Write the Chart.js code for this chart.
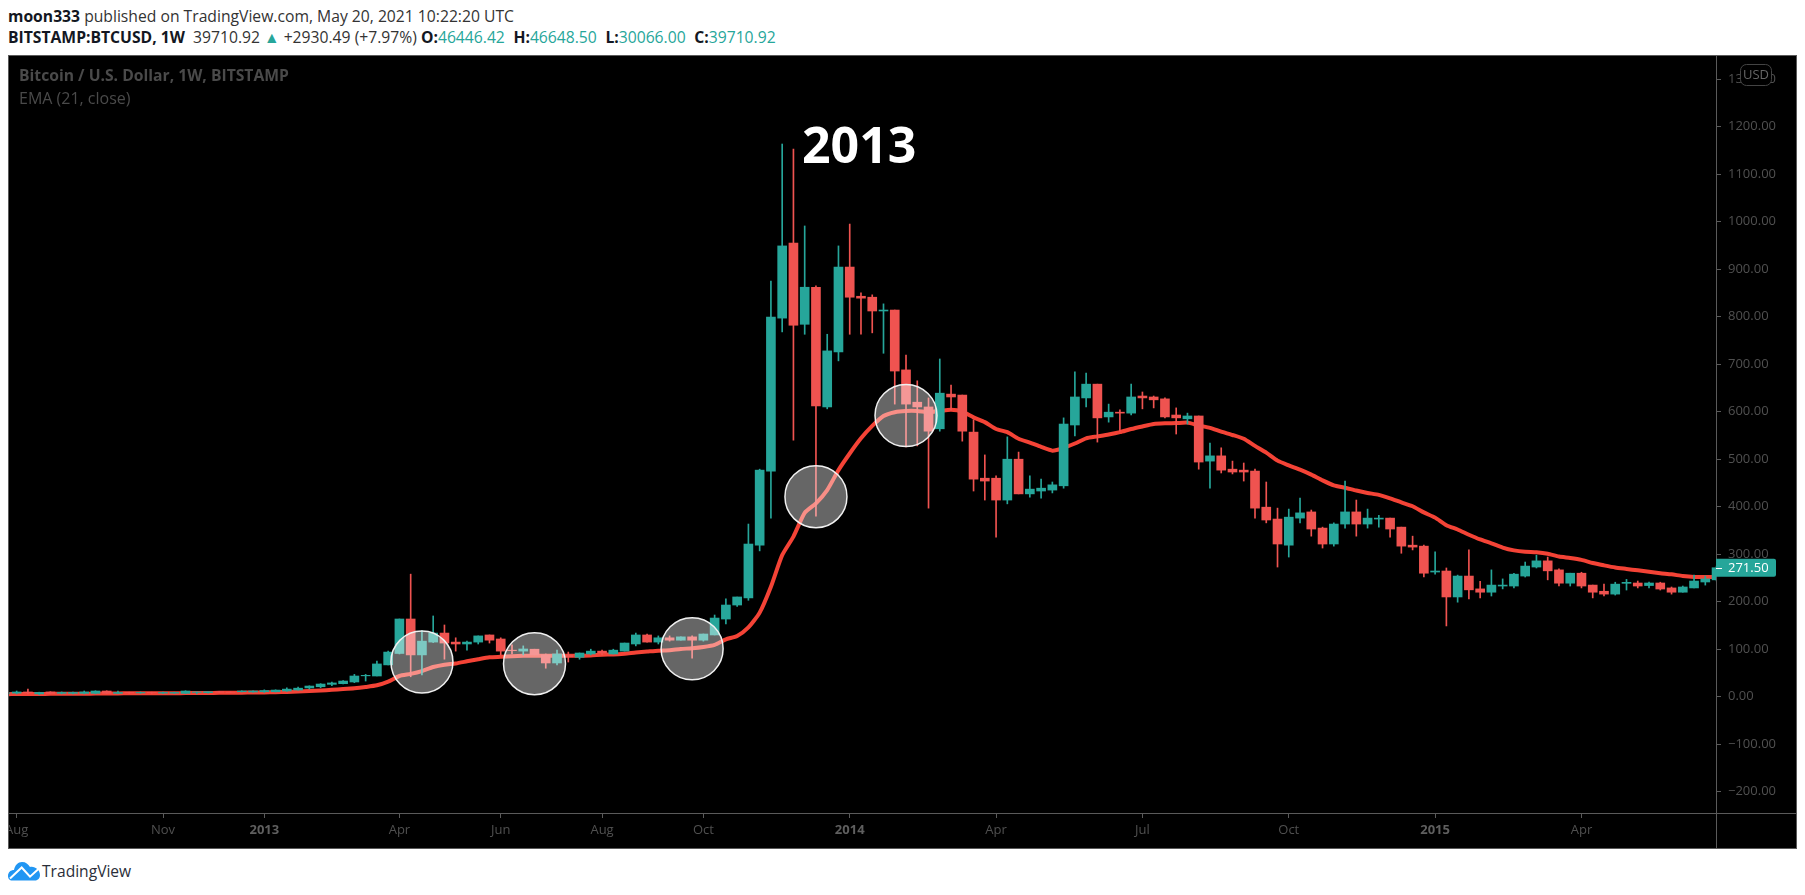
<!DOCTYPE html>
<html>
<head>
<meta charset="utf-8">
<title>BTCUSD 1W</title>
<script src="https://cdn.jsdelivr.net/npm/chart.js@4"></script>
<style>
  html, body { margin: 0; padding: 0; background: #fff; width: 1805px; height: 895px; overflow: hidden; font-family: "Open Sans", sans-serif; }
  .abs { position: absolute; white-space: nowrap; line-height: 1; }
  #box { position: absolute; left: 8px; top: 55px; width: 1787px; height: 792px; border: 1px solid #5a5a5a; background: #000; }
  #chart { position: absolute; left: 0; top: 0; }
  .teal { color: #26a69a; }
  .gap { margin-left: 4.5px; }
  b { font-weight: 700; color: #131722; }
</style>
</head>
<body>
<div class="abs" id="line1" style="left:8px;top:9px;font-size:15.7px;color:#333;"><b>moon333</b> published on TradingView.com, May 20, 2021 10:22:20 UTC</div>
<div class="abs" id="line2" style="left:8px;top:30px;font-size:15.7px;color:#333;"><b>BITSTAMP:BTCUSD, 1W</b>&nbsp; 39710.92 <span class="teal">▲</span> +2930.49 (+7.97%) <b>O:</b><span class="teal">46446.42</span> <b class="gap">H:</b><span class="teal">46648.50</span> <b class="gap">L:</b><span class="teal">30066.00</span> <b class="gap">C:</b><span class="teal">39710.92</span></div>

<div id="box"><canvas id="chart" width="1787" height="792"></canvas></div>

<div class="abs" style="left:19px;top:68px;font-size:15.7px;font-weight:700;color:#4a4a4a;">Bitcoin / U.S. Dollar, 1W, BITSTAMP</div>
<div class="abs" style="left:19px;top:90px;font-size:16px;color:#4a4a4a;">EMA (21, close)</div>
<div class="abs" style="left:802px;top:119px;font-size:50px;font-weight:700;color:#fff;">2013</div>

<svg class="abs" style="left:8px;top:861px;" width="33" height="20" viewBox="0 0 33 20">
  <path d="M0 15 C0 11 3 9 6 9 C7 4 10 1 14 1 C18 1 20 3 22 6 C27 5 32 9 32 14 C32 17 30 19.500 27 19.500 L4 19.500 C1 19.500 0 17 0 15 Z" fill="#2196f3"/>
  <path d="M2 17.500 L13.700 6.500 L22 15.700 L31 7.500" fill="none" stroke="#fff" stroke-width="2"/>
</svg>
<div class="abs" style="left:42px;top:864px;font-size:15.6px;color:#2a2e39;">TradingView</div>

<script>
const opens = [7, 7.5,10,6,10,7,7,7,7,12,7, 9,8,9,7.5,7.5,7,9,8.5,10.5,9.5,
  10.5,10,10.5,10.5,12,14,18.4,21,26,27.5,
  31,44,43.6,67,91,163.6,88,115,134,115,
  111,115,130,121.5,98,96,100,88,71,87,
  83,90,96,90,96,111,130,115,124,119,
  126,119,130,163.5,193,208,319,475,797,955,
  784,862,610,726,904.5,843,841,812,814,688,
  620,610,564,637,635,557,460,460,414,500,
  427,433,435,444,572,629,658,589,599,597,
  633,631,627,593,585,591,496,507,479,477,
  475,399,374,319,376,389,355,321.5,363.5,389,
  363.5,374,376,357,319,317,262.5,264.6,210,254,
  227,220,233,233,254,273,286,267,239,260,
  235,222,216,238.7,239.4,234,239.4,229,220,229,
  241.5,246];
const highs = [9, 12,16,9.5,10.5,10,9.5,12,12.5,12.5,12, 9.5,10,9.5,9.5,9.5,12.5,10,10.5,11,10.5,
  12.5,12.5,14.5,14.5,18.5,20.5,23,27.5,31,34,
  47,47,75,96,163.6,258,139,170,151,124,
  117,128,130,124,109,107,100,90,98,94,
  92,100,98,100,113,134,132,128,128,126,
  128,132,172,206,210,363.5,479,875,1163.5,1153,
  991,865,763,949,995,850,846,827,814,719,
  665,629,711,656,635,583,509,465,547,515,
  465,458,452,587,684,681.5,658,616,604,658,
  641.5,633,629,608,597,591,534,524,496,492,
  479,452,397,395,418,393,357,366,454,414,
  395,382,376,357,338,319,305,271,256,309,
  243,267,248,260,283.5,298,294,269,260,262,
  235,237,241,247,243.5,241.5,241,231,233,256,
  254,275];
const lows = [6, 6,6,4,6,6,6,6,6,6.5,6.5, 7,7,7,7,7,6.5,6,7.5,9,9,
  10,9.5,9,10,11,14,16,19,23,27,
  29.5,33,43.6,67,90,42,46,114,79,96,
  98,111,113,88,90,88,88,60,67,73,
  79,88,88,90,96,107,115,111,117,119,
  81,117,130,153,190,203,307,376,768,540,
  763,380,606,707,763,763,766,723,616,526,
  528,397,559,603,538,433,414,336,406,427,
  420,418,429,439,549,610,536,578,559,593,
  606,608,587,553,574,479,439,471,469,454,
  376,366,273,294,366,338,313,317,355,338,
  355,357,336,302,309,252,258,149,199,206,
  208,212,227,229,252,271,246,233,233,229,
  208,212,214,224.6,229,229,224.6,216,220,229,
  235,244];
const closes = [8, 10,8,9,7,9,9,10,12,7,9, 8,9,8.5,9,9,12,10,10.5,9.5,9.2,
  12,12,13,14,16,18,22.5,26.7,29,33,
  43.6,45,69,94,163.6,88,117,134,113,111,
  115,128,119,96,97,100.5,88,71,90,84,
  92,96,92,98,113,130,115,124,119,126,
  119,132,165.6,193,210,321.4,477,799,949,782,
  862,612,728,904.5,841,839,812,814,685.6,616,
  610,559,639,631,559,458,454,414,500,427,
  437,439,446,574,631,658,587,599,597,631,
  629,625,589,587,591,494,507,477,473,473,
  397,372,321.5,378,387,353,321.4,363.5,389,363.5,
  376,376,353,317,315,260,264.6,210,254,225,
  220,235,235,258,275,286,265,239,260,233,
  220,216,237,240.8,233,239.4,226.7,220,231,243.5,
  248,271.5];
const ema = [5.4, 5.5,5.6,5.8,6,6.2,6.3,6.4,6.6,6.8,7, 7.1,7.2,7.3,7.4,7.5,7.6,7.7,7.9,8.1,8.3,
  8.5,8.8,9,9.4,10,10.8,11.8,13,14.7,16,
  17.6,20.4,24,31.6,43.6,48,54,62.5,67.5,70,
  74.5,79,83,84,85,86,86.4,86,86,86,
  86.4,87,88.5,89,90.6,93,95,97,98,100.5,
  102,104.6,109,120.7,128,146,177,231.6,298,337,
  387,407,435,477,512,544,570,591,599,601.5,
  601.5,599,601.5,604,600,588,578,563.6,557,543,
  535,526,518,523.6,533,544,548,552,557,563.6,
  569,574,575.5,576,577,571,566,558,551,543,
  528,514,497,487,478,467.5,455.5,445,440,434,
  429,425,417.6,409,401,388,377,361,352,341,
  331,323,314,308,305,304,301,295,292,288,
  281.4,276.5,272,269,266,263,260,257.6,254,252,
  252,252.6];
const tickIdx = [1,14,23,35,44,53,62,75,88,101,114,127,140];
const tickLabels = ['Aug','Nov','2013','Apr','Jun','Aug','Oct','2014','Apr','Jul','Oct','2015','Apr'];
const priceTicks = [-200,-100,0,100,200,300,400,500,600,700,800,900,1000,1100,1200,1300];
const circleX = [37,47,61,72,80];
const circleY = [73,69.5,101,421,592];
const lastPrice = 271.5;

const UP = '#26a69a', DOWN = '#ef5350', AXIS = '#5a5a5a', LABEL = '#505050';
const FONT = '"Open Sans", sans-serif';

const candleColors = opens.map((o, i) => closes[i] >= o ? UP : DOWN);
const bodies = opens.map((o, i) => ({ x: i, y: [Math.min(o, closes[i]), Math.max(o, closes[i])] }));
const wicks = lows.map((l, i) => ({ x: i, y: [l, highs[i]] }));
const isYear = (c) => !!c.tick && /^20/.test(c.tick.label);

// tick labels may hang over the edges, the plot area must not shrink for them
const noEdgePadding = (s) => {
  s.paddingLeft = s.paddingRight = s.paddingTop = s.paddingBottom = 0;
};

// price label, USD badge and axis line stubs on top of everything
const overlay = {
  id: 'overlay',
  afterDraw(chart) {
    const { ctx, chartArea: a, scales, width, height } = chart;
    ctx.save();
    ctx.strokeStyle = AXIS;
    ctx.lineWidth = 1;
    ctx.beginPath();
    ctx.moveTo(a.right + 0.5, a.bottom);
    ctx.lineTo(a.right + 0.5, height);
    ctx.moveTo(a.right, a.bottom + 0.5);
    ctx.lineTo(width, a.bottom + 0.5);
    ctx.stroke();

    const y = scales.y.getPixelForValue(lastPrice);
    ctx.fillStyle = UP;
    ctx.beginPath();
    ctx.roundRect(a.right, y - 9, 60, 18, [0, 2, 2, 0]);
    ctx.fill();
    ctx.strokeStyle = '#fff';
    ctx.beginPath();
    ctx.moveTo(a.right, Math.round(y) + 0.5);
    ctx.lineTo(a.right + 6, Math.round(y) + 0.5);
    ctx.stroke();
    ctx.fillStyle = '#fff';
    ctx.font = '13px ' + FONT;
    ctx.textBaseline = 'middle';
    ctx.textAlign = 'left';
    ctx.fillText(lastPrice.toFixed(2), a.right + 12, y + 0.5);

    ctx.fillStyle = '#000';
    ctx.strokeStyle = '#444';
    ctx.beginPath();
    ctx.roundRect(a.right + 24.5, 8.5, 31, 21, 6);
    ctx.fill();
    ctx.stroke();
    ctx.fillStyle = '#666';
    ctx.font = '13px ' + FONT;
    ctx.textAlign = 'center';
    ctx.fillText('USD', a.right + 40, 19);
    ctx.restore();
  }
};

new Chart(document.getElementById('chart').getContext('2d'), {
  type: 'bar',
  data: {
    datasets: [
      {
        type: 'bubble',
        data: circleX.map((x, i) => ({ x: x, y: circleY[i], r: 31 })),
        backgroundColor: 'rgba(255,255,255,0.4)',
        borderColor: '#f0f0f0',
        borderWidth: 1.5,
        order: 0,
      },
      {
        type: 'bar',
        data: bodies,
        backgroundColor: candleColors,
        barThickness: 9,
        grouped: false,
        order: 1,
      },
      {
        type: 'bar',
        data: wicks,
        backgroundColor: candleColors,
        barThickness: 1,
        grouped: false,
        order: 2,
      },
      {
        type: 'line',
        data: ema.map((v, i) => ({ x: i, y: v })),
        borderColor: '#f44336',
        borderWidth: 4,
        pointRadius: 0,
        tension: 0.2,
        order: 3,
      },
    ],
  },
  options: {
    responsive: false,
    animation: false,
    devicePixelRatio: 1,
    layout: { padding: 0, autoPadding: false },
    plugins: { legend: { display: false }, tooltip: { enabled: false } },
    scales: {
      x: {
        type: 'linear',
        min: 0.32,
        max: 151.95,
        offset: false,
        grid: { display: true, drawOnChartArea: false, offset: false, tickLength: 5, tickColor: AXIS },
        border: { color: AXIS },
        afterBuildTicks: (s) => { s.ticks = tickIdx.map((v) => ({ value: v })); },
        afterFit: (s) => { s.height = 35; noEdgePadding(s); },
        ticks: {
          autoSkip: false,
          maxRotation: 0,
          padding: 4,
          color: (c) => isYear(c) ? '#5f5f5f' : LABEL,
          font: (c) => ({ family: FONT, size: 13, weight: isYear(c) ? 'bold' : 'normal' }),
          callback: (v) => tickLabels[tickIdx.indexOf(v)],
        },
      },
      y: {
        type: 'linear',
        position: 'right',
        min: -244.8,
        max: 1348.8,
        grid: { display: true, drawOnChartArea: false, tickLength: 5, tickColor: AXIS },
        border: { color: AXIS },
        afterBuildTicks: (s) => { s.ticks = priceTicks.map((v) => ({ value: v })); },
        afterFit: (s) => { s.width = 80; noEdgePadding(s); },
        ticks: {
          padding: 7,
          color: LABEL,
          font: { family: FONT, size: 13 },
          callback: (v) => v < 0 ? '\u2212' + Math.abs(v).toFixed(2) : v.toFixed(2),
        },
      },
    },
  },
  plugins: [overlay],
});
</script>
</body>
</html>
